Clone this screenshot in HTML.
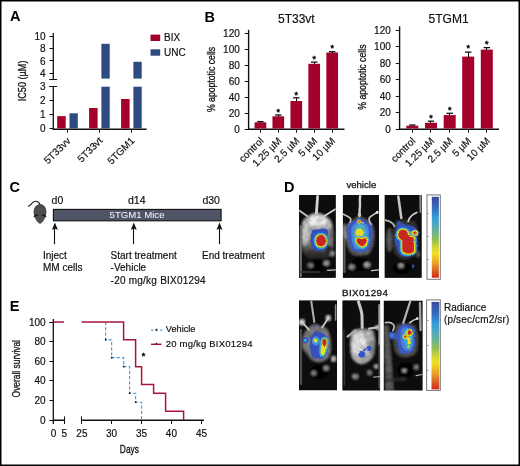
<!DOCTYPE html>
<html><head><meta charset="utf-8"><style>
html,body{margin:0;padding:0;background:#fff;width:520px;height:466px;overflow:hidden;-webkit-font-smoothing:antialiased;}
svg{will-change:transform;}
svg{display:block;font-family:"Liberation Sans", sans-serif;}
</style></head><body>
<svg width="520" height="466" viewBox="0 0 520 466">
<rect x="0" y="0" width="520" height="466" fill="#fff"/>
<defs>
<filter id="b05" x="-20%" y="-20%" width="140%" height="140%"><feGaussianBlur stdDeviation="0.5"/></filter>
<filter id="b06" x="-20%" y="-20%" width="140%" height="140%"><feGaussianBlur stdDeviation="0.6"/></filter>
<filter id="b07" x="-20%" y="-20%" width="140%" height="140%"><feGaussianBlur stdDeviation="0.7"/></filter>
<filter id="hw" x="-20%" y="-20%" width="140%" height="140%"><feTurbulence type="fractalNoise" baseFrequency="0.35" numOctaves="2" seed="3" result="n"/><feDisplacementMap in="SourceGraphic" in2="n" scale="2.2" xChannelSelector="R" yChannelSelector="G" result="d"/><feGaussianBlur in="d" stdDeviation="0.55"/></filter>
<filter id="tex" x="0" y="0" width="1" height="1"><feGaussianBlur in="SourceGraphic" stdDeviation="0.9" result="b"/><feTurbulence type="fractalNoise" baseFrequency="0.18" numOctaves="3" seed="7" result="n"/><feColorMatrix in="n" type="matrix" values="1 0 0 0 0  1 0 0 0 0  1 0 0 0 0  0 0 0 0 1" result="g"/><feComposite in="b" in2="g" operator="arithmetic" k1="0.9" k2="0.55" k3="0" k4="0"/></filter>
<filter id="b09" x="-20%" y="-20%" width="140%" height="140%"><feGaussianBlur stdDeviation="0.9"/></filter>
<linearGradient id="gb1" x1="0" y1="215" x2="0" y2="259" gradientUnits="userSpaceOnUse"><stop offset="0" stop-color="#c8c8c8"/><stop offset="0.35" stop-color="#a8a8a8"/><stop offset="0.65" stop-color="#707070"/><stop offset="0.85" stop-color="#383838"/><stop offset="1" stop-color="#1a1a1a"/></linearGradient>
<filter id="b1" x="-30%" y="-30%" width="160%" height="160%"><feGaussianBlur stdDeviation="1"/></filter>
<filter id="b15" x="-30%" y="-30%" width="160%" height="160%"><feGaussianBlur stdDeviation="1.5"/></filter>
<filter id="b2" x="-30%" y="-30%" width="160%" height="160%"><feGaussianBlur stdDeviation="2.2"/></filter>
<linearGradient id="cbar" x1="0" y1="0" x2="0" y2="1">
<stop offset="0" stop-color="#3a4a9c"/>
<stop offset="0.13" stop-color="#3768c0"/>
<stop offset="0.26" stop-color="#35a0d8"/>
<stop offset="0.4" stop-color="#5fb0a8"/>
<stop offset="0.52" stop-color="#8cbc5a"/>
<stop offset="0.64" stop-color="#d8d830"/>
<stop offset="0.7" stop-color="#f0e020"/>
<stop offset="0.82" stop-color="#e8a028"/>
<stop offset="1" stop-color="#d02820"/>
</linearGradient>
<clipPath id="c1"><rect x="299.1" y="195" width="36.6" height="82.8"/></clipPath>
<clipPath id="c2"><rect x="342.9" y="195" width="36.0" height="82.8"/></clipPath>
<clipPath id="c3"><rect x="384.7" y="195" width="36.9" height="82.8"/></clipPath>
<clipPath id="c4"><rect x="299.0" y="300.6" width="38.0" height="89.7"/></clipPath>
<clipPath id="c5"><rect x="342.5" y="300.6" width="37.6" height="89.9"/></clipPath>
<clipPath id="c6"><rect x="383.8" y="300.8" width="38.7" height="89.7"/></clipPath>
</defs>
<text x="10" y="21.4" font-size="14.5" text-anchor="start" font-weight="bold" fill="#000" >A</text>
<line x1="53.3" y1="32.9" x2="53.3" y2="79.3" stroke="#111" stroke-width="1.3" />
<line x1="53.3" y1="86.2" x2="53.3" y2="129.8" stroke="#111" stroke-width="1.3" />
<line x1="49.5" y1="36.5" x2="53.5" y2="36.5" stroke="#111" stroke-width="1" />
<text x="45.6" y="39.9" font-size="10" text-anchor="end" font-weight="normal" fill="#111" stroke="#111" stroke-width="0.18" >10</text>
<line x1="49.5" y1="48.5" x2="53.5" y2="48.5" stroke="#111" stroke-width="1" />
<text x="45.6" y="52.199999999999996" font-size="10" text-anchor="end" font-weight="normal" fill="#111" stroke="#111" stroke-width="0.18" >8</text>
<line x1="49.5" y1="60.5" x2="53.5" y2="60.5" stroke="#111" stroke-width="1" />
<text x="45.6" y="64.5" font-size="10" text-anchor="end" font-weight="normal" fill="#111" stroke="#111" stroke-width="0.18" >6</text>
<line x1="49.5" y1="73.5" x2="53.5" y2="73.5" stroke="#111" stroke-width="1" />
<text x="45.6" y="76.8" font-size="10" text-anchor="end" font-weight="normal" fill="#111" stroke="#111" stroke-width="0.18" >4</text>
<line x1="49.5" y1="86.5" x2="53.5" y2="86.5" stroke="#111" stroke-width="1" />
<text x="45.6" y="89.99999999999999" font-size="10" text-anchor="end" font-weight="normal" fill="#111" stroke="#111" stroke-width="0.18" >3</text>
<line x1="49.5" y1="100.5" x2="53.5" y2="100.5" stroke="#111" stroke-width="1" />
<text x="45.6" y="104.09999999999998" font-size="10" text-anchor="end" font-weight="normal" fill="#111" stroke="#111" stroke-width="0.18" >2</text>
<line x1="49.5" y1="114.5" x2="53.5" y2="114.5" stroke="#111" stroke-width="1" />
<text x="45.6" y="118.19999999999999" font-size="10" text-anchor="end" font-weight="normal" fill="#111" stroke="#111" stroke-width="0.18" >1</text>
<line x1="49.5" y1="128.5" x2="53.5" y2="128.5" stroke="#111" stroke-width="1" />
<text x="45.6" y="132.29999999999998" font-size="10" text-anchor="end" font-weight="normal" fill="#111" stroke="#111" stroke-width="0.18" >0</text>
<line x1="49.3" y1="79.5" x2="57.1" y2="79.5" stroke="#111" stroke-width="1" />
<line x1="49.3" y1="86.5" x2="57.1" y2="86.5" stroke="#111" stroke-width="1" />
<line x1="52.7" y1="129.25" x2="146.6" y2="129.25" stroke="#111" stroke-width="1.5" />
<line x1="67.5" y1="128.9" x2="67.5" y2="132.7" stroke="#111" stroke-width="1" />
<line x1="99.5" y1="128.9" x2="99.5" y2="132.7" stroke="#111" stroke-width="1" />
<line x1="131.5" y1="128.9" x2="131.5" y2="132.7" stroke="#111" stroke-width="1" />
<rect x="57.20" y="116.10" width="8.50" height="12.30" fill="#A3002B" />
<rect x="89.10" y="108.00" width="8.50" height="20.40" fill="#A3002B" />
<rect x="121.10" y="99.00" width="8.50" height="29.40" fill="#A3002B" />
<rect x="69.50" y="113.30" width="8.30" height="15.10" fill="#2E4A80" />
<rect x="101.40" y="43.80" width="8.30" height="34.80" fill="#2E4A80" />
<rect x="101.40" y="86.70" width="8.30" height="41.70" fill="#2E4A80" />
<rect x="133.40" y="61.80" width="8.30" height="16.80" fill="#2E4A80" />
<rect x="133.40" y="86.70" width="8.30" height="41.70" fill="#2E4A80" />
<rect x="150.50" y="34.60" width="9.70" height="6.40" fill="#A3002B" />
<rect x="150.50" y="49.30" width="9.70" height="6.40" fill="#2E4A80" />
<text x="164.0" y="41.2" font-size="10" text-anchor="start" font-weight="normal" fill="#111" stroke="#111" stroke-width="0.18" >BIX</text>
<text x="164.0" y="55.8" font-size="10" text-anchor="start" font-weight="normal" fill="#111" stroke="#111" stroke-width="0.18" >UNC</text>
<text transform="translate(71.19999999999999,141.4) rotate(-45)" font-size="10" text-anchor="end" fill="#111" stroke="#111" stroke-width="0.18">5T33vv</text>
<text transform="translate(103.1,141.4) rotate(-45)" font-size="10" text-anchor="end" fill="#111" stroke="#111" stroke-width="0.18">5T33vt</text>
<text transform="translate(135.1,141.4) rotate(-45)" font-size="10" text-anchor="end" fill="#111" stroke="#111" stroke-width="0.18">5TGM1</text>
<text transform="translate(26.2,80.9) rotate(-90) scale(0.87,1)" font-size="10.5" text-anchor="middle" fill="#111" stroke="#111" stroke-width="0.3">IC50 (µM)</text>
<text x="204.6" y="22.1" font-size="14.5" text-anchor="start" font-weight="bold" fill="#000" >B</text>
<line x1="248.6" y1="29.8" x2="248.6" y2="130.0" stroke="#111" stroke-width="1.4" />
<line x1="244.7" y1="129.5" x2="248.5" y2="129.5" stroke="#111" stroke-width="1" />
<text x="239.8" y="132.7" font-size="10" text-anchor="end" font-weight="normal" fill="#111" stroke="#111" stroke-width="0.18" >0</text>
<line x1="244.7" y1="113.5" x2="248.5" y2="113.5" stroke="#111" stroke-width="1" />
<text x="239.8" y="116.74999999999999" font-size="10" text-anchor="end" font-weight="normal" fill="#111" stroke="#111" stroke-width="0.18" >20</text>
<line x1="244.7" y1="97.5" x2="248.5" y2="97.5" stroke="#111" stroke-width="1" />
<text x="239.8" y="100.79999999999998" font-size="10" text-anchor="end" font-weight="normal" fill="#111" stroke="#111" stroke-width="0.18" >40</text>
<line x1="244.7" y1="81.5" x2="248.5" y2="81.5" stroke="#111" stroke-width="1" />
<text x="239.8" y="84.85" font-size="10" text-anchor="end" font-weight="normal" fill="#111" stroke="#111" stroke-width="0.18" >60</text>
<line x1="244.7" y1="65.5" x2="248.5" y2="65.5" stroke="#111" stroke-width="1" />
<text x="239.8" y="68.89999999999999" font-size="10" text-anchor="end" font-weight="normal" fill="#111" stroke="#111" stroke-width="0.18" >80</text>
<line x1="244.7" y1="49.5" x2="248.5" y2="49.5" stroke="#111" stroke-width="1" />
<text x="239.8" y="52.949999999999996" font-size="10" text-anchor="end" font-weight="normal" fill="#111" stroke="#111" stroke-width="0.18" >100</text>
<line x1="244.7" y1="33.5" x2="248.5" y2="33.5" stroke="#111" stroke-width="1" />
<text x="239.8" y="36.99999999999999" font-size="10" text-anchor="end" font-weight="normal" fill="#111" stroke="#111" stroke-width="0.18" >120</text>
<line x1="247.9" y1="129.3" x2="344.5" y2="129.3" stroke="#111" stroke-width="1.4" />
<line x1="260.5" y1="129" x2="260.5" y2="132.7" stroke="#111" stroke-width="1" />
<line x1="278.5" y1="129" x2="278.5" y2="132.7" stroke="#111" stroke-width="1" />
<line x1="296.5" y1="129" x2="296.5" y2="132.7" stroke="#111" stroke-width="1" />
<line x1="314.5" y1="129" x2="314.5" y2="132.7" stroke="#111" stroke-width="1" />
<line x1="332.5" y1="129" x2="332.5" y2="132.7" stroke="#111" stroke-width="1" />
<rect x="254.55" y="122.30" width="11.70" height="6.20" fill="#A3002B" />
<rect x="272.45" y="116.30" width="11.70" height="12.20" fill="#A3002B" />
<rect x="290.45" y="101.00" width="11.70" height="27.50" fill="#A3002B" />
<rect x="308.35" y="63.80" width="11.70" height="64.70" fill="#A3002B" />
<rect x="326.35" y="52.50" width="11.70" height="76.00" fill="#A3002B" />
<line x1="260.5" y1="121.6" x2="260.5" y2="122.8" stroke="#111" stroke-width="1" />
<line x1="257.2" y1="121.6" x2="263.59999999999997" y2="121.6" stroke="#111" stroke-width="1.3" />
<line x1="278.5" y1="115.0" x2="278.5" y2="116.8" stroke="#111" stroke-width="1" />
<line x1="275.1" y1="115.0" x2="281.5" y2="115.0" stroke="#111" stroke-width="1.3" />
<line x1="296.5" y1="97.8" x2="296.5" y2="101.5" stroke="#111" stroke-width="1" />
<line x1="293.1" y1="97.8" x2="299.5" y2="97.8" stroke="#111" stroke-width="1.3" />
<line x1="314.5" y1="62.1" x2="314.5" y2="64.3" stroke="#111" stroke-width="1" />
<line x1="311.0" y1="62.1" x2="317.4" y2="62.1" stroke="#111" stroke-width="1.3" />
<line x1="332.5" y1="51.7" x2="332.5" y2="53.0" stroke="#111" stroke-width="1" />
<line x1="329.0" y1="51.7" x2="335.4" y2="51.7" stroke="#111" stroke-width="1.3" />
<text x="278.3" y="114.5" font-size="9" text-anchor="middle" font-weight="normal" fill="#111" stroke="#111" stroke-width="0.5" >*</text>
<text x="296.3" y="97.5" font-size="9" text-anchor="middle" font-weight="normal" fill="#111" stroke="#111" stroke-width="0.5" >*</text>
<text x="314.2" y="61.5" font-size="9" text-anchor="middle" font-weight="normal" fill="#111" stroke="#111" stroke-width="0.5" >*</text>
<text x="332.2" y="51.3" font-size="9" text-anchor="middle" font-weight="normal" fill="#111" stroke="#111" stroke-width="0.5" >*</text>
<text transform="translate(264.2,141.5) rotate(-45)" font-size="10" text-anchor="end" fill="#111" stroke="#111" stroke-width="0.18">control</text>
<text transform="translate(282.1,141.5) rotate(-45)" font-size="10" text-anchor="end" fill="#111" stroke="#111" stroke-width="0.18">1.25 µM</text>
<text transform="translate(300.1,141.5) rotate(-45)" font-size="10" text-anchor="end" fill="#111" stroke="#111" stroke-width="0.18">2.5 µM</text>
<text transform="translate(318.0,141.5) rotate(-45)" font-size="10" text-anchor="end" fill="#111" stroke="#111" stroke-width="0.18">5 µM</text>
<text transform="translate(336.0,141.5) rotate(-45)" font-size="10" text-anchor="end" fill="#111" stroke="#111" stroke-width="0.18">10 µM</text>
<text x="278.0" y="22.8" font-size="12" text-anchor="start" font-weight="normal" fill="#111" stroke="#111" stroke-width="0.18" >5T33vt</text>
<text transform="translate(214.6,79.5) rotate(-90) scale(0.79,1)" font-size="11" text-anchor="middle" fill="#111" stroke="#111" stroke-width="0.3">% apoptotic cells</text>
<line x1="399.6" y1="26.3" x2="399.6" y2="130.0" stroke="#111" stroke-width="1.4" />
<line x1="395.7" y1="129.5" x2="399.5" y2="129.5" stroke="#111" stroke-width="1" />
<text x="390.8" y="132.7" font-size="10" text-anchor="end" font-weight="normal" fill="#111" stroke="#111" stroke-width="0.18" >0</text>
<line x1="395.7" y1="112.5" x2="399.5" y2="112.5" stroke="#111" stroke-width="1" />
<text x="390.8" y="116.19999999999999" font-size="10" text-anchor="end" font-weight="normal" fill="#111" stroke="#111" stroke-width="0.18" >20</text>
<line x1="395.7" y1="96.5" x2="399.5" y2="96.5" stroke="#111" stroke-width="1" />
<text x="390.8" y="99.69999999999999" font-size="10" text-anchor="end" font-weight="normal" fill="#111" stroke="#111" stroke-width="0.18" >40</text>
<line x1="395.7" y1="79.5" x2="399.5" y2="79.5" stroke="#111" stroke-width="1" />
<text x="390.8" y="83.19999999999999" font-size="10" text-anchor="end" font-weight="normal" fill="#111" stroke="#111" stroke-width="0.18" >60</text>
<line x1="395.7" y1="63.5" x2="399.5" y2="63.5" stroke="#111" stroke-width="1" />
<text x="390.8" y="66.69999999999999" font-size="10" text-anchor="end" font-weight="normal" fill="#111" stroke="#111" stroke-width="0.18" >80</text>
<line x1="395.7" y1="46.5" x2="399.5" y2="46.5" stroke="#111" stroke-width="1" />
<text x="390.8" y="50.199999999999996" font-size="10" text-anchor="end" font-weight="normal" fill="#111" stroke="#111" stroke-width="0.18" >100</text>
<line x1="395.7" y1="30.5" x2="399.5" y2="30.5" stroke="#111" stroke-width="1" />
<text x="390.8" y="33.699999999999996" font-size="10" text-anchor="end" font-weight="normal" fill="#111" stroke="#111" stroke-width="0.18" >120</text>
<line x1="398.9" y1="129.3" x2="499" y2="129.3" stroke="#111" stroke-width="1.4" />
<line x1="412.5" y1="129" x2="412.5" y2="132.7" stroke="#111" stroke-width="1" />
<line x1="430.5" y1="129" x2="430.5" y2="132.7" stroke="#111" stroke-width="1" />
<line x1="449.5" y1="129" x2="449.5" y2="132.7" stroke="#111" stroke-width="1" />
<line x1="468.5" y1="129" x2="468.5" y2="132.7" stroke="#111" stroke-width="1" />
<line x1="486.5" y1="129" x2="486.5" y2="132.7" stroke="#111" stroke-width="1" />
<rect x="406.30" y="125.70" width="12.00" height="2.80" fill="#A3002B" />
<rect x="425.00" y="122.80" width="12.00" height="5.70" fill="#A3002B" />
<rect x="443.70" y="115.10" width="12.00" height="13.40" fill="#A3002B" />
<rect x="462.20" y="56.60" width="12.00" height="71.90" fill="#A3002B" />
<rect x="480.80" y="49.60" width="12.00" height="78.90" fill="#A3002B" />
<line x1="412.5" y1="125.0" x2="412.5" y2="126.2" stroke="#111" stroke-width="1" />
<line x1="409.1" y1="125.0" x2="415.5" y2="125.0" stroke="#111" stroke-width="1.3" />
<line x1="430.5" y1="121.2" x2="430.5" y2="123.3" stroke="#111" stroke-width="1" />
<line x1="427.8" y1="121.2" x2="434.2" y2="121.2" stroke="#111" stroke-width="1.3" />
<line x1="449.5" y1="113.3" x2="449.5" y2="115.6" stroke="#111" stroke-width="1" />
<line x1="446.5" y1="113.3" x2="452.9" y2="113.3" stroke="#111" stroke-width="1.3" />
<line x1="468.5" y1="52.1" x2="468.5" y2="57.1" stroke="#111" stroke-width="1" />
<line x1="465.0" y1="52.1" x2="471.4" y2="52.1" stroke="#111" stroke-width="1.3" />
<line x1="486.5" y1="47.6" x2="486.5" y2="50.1" stroke="#111" stroke-width="1" />
<line x1="483.6" y1="47.6" x2="490.0" y2="47.6" stroke="#111" stroke-width="1.3" />
<text x="431.0" y="121.2" font-size="9" text-anchor="middle" font-weight="normal" fill="#111" stroke="#111" stroke-width="0.5" >*</text>
<text x="449.7" y="112.9" font-size="9" text-anchor="middle" font-weight="normal" fill="#111" stroke="#111" stroke-width="0.5" >*</text>
<text x="468.2" y="50.9" font-size="9" text-anchor="middle" font-weight="normal" fill="#111" stroke="#111" stroke-width="0.5" >*</text>
<text x="486.8" y="47.4" font-size="9" text-anchor="middle" font-weight="normal" fill="#111" stroke="#111" stroke-width="0.5" >*</text>
<text transform="translate(416.1,141.5) rotate(-45)" font-size="10" text-anchor="end" fill="#111" stroke="#111" stroke-width="0.18">control</text>
<text transform="translate(434.8,141.5) rotate(-45)" font-size="10" text-anchor="end" fill="#111" stroke="#111" stroke-width="0.18">1.25 µM</text>
<text transform="translate(453.5,141.5) rotate(-45)" font-size="10" text-anchor="end" fill="#111" stroke="#111" stroke-width="0.18">2.5 µM</text>
<text transform="translate(472.0,141.5) rotate(-45)" font-size="10" text-anchor="end" fill="#111" stroke="#111" stroke-width="0.18">5 µM</text>
<text transform="translate(490.6,141.5) rotate(-45)" font-size="10" text-anchor="end" fill="#111" stroke="#111" stroke-width="0.18">10 µM</text>
<text x="428.6" y="22.8" font-size="12" text-anchor="start" font-weight="normal" fill="#111" stroke="#111" stroke-width="0.18" >5TGM1</text>
<text transform="translate(365.8,77.1) rotate(-90) scale(0.79,1)" font-size="11" text-anchor="middle" fill="#111" stroke="#111" stroke-width="0.3">% apoptotic cells</text>
<text x="9.6" y="191.6" font-size="14.5" text-anchor="start" font-weight="bold" fill="#000" >C</text>
<path d="M28.4,206.1 C30.5,206.3 31.5,203 33,202.2 C34.5,201.2 36.5,201 38,202 C39,202.7 39.6,203.6 40.2,205" fill="none" stroke="#222" stroke-width="1.2" stroke-linecap="round"/>
<path d="M40.1,204.6 C43.8,204.6 46,207.8 46,211.8 C46,214 45.6,216 44.8,217.5 C44.2,219 42.8,221.2 41.5,222.6 C40.7,223.5 39.3,223.5 38.5,222.6 C37.2,221.2 35.8,219 35.2,217.5 C34.4,216 34,214 34,211.8 C34,207.8 36.4,204.6 40.1,204.6 Z" fill="#4e4e4e" stroke="#2c2c2c" stroke-width="0.7"/>
<path d="M34.2,217.2 C34.5,215.2 36.5,214.6 38.2,215.8" fill="none" stroke="#151515" stroke-width="1.3"/>
<path d="M45.8,217.2 C45.5,215.2 43.5,214.6 41.8,215.8" fill="none" stroke="#151515" stroke-width="1.3"/>
<path d="M36.5,221.5 l-1.6,0.8 M36.8,222.3 l-1,1.4 M43.5,221.5 l1.6,0.8 M43.2,222.3 l1,1.4" stroke="#c8c8c8" stroke-width="0.6"/>
<rect x="53.4" y="209.4" width="167.7" height="11.4" fill="#4f5567" stroke="#111" stroke-width="1.1"/>
<text x="109.6" y="218.0" font-size="9.6" text-anchor="start" font-weight="normal" fill="#eef0f4" stroke="#eef0f4" stroke-width="0.05" >5TGM1 Mice</text>
<text x="51.6" y="203.8" font-size="10.5" text-anchor="start" font-weight="normal" fill="#111" stroke="#111" stroke-width="0.18" >d0</text>
<text x="128.0" y="203.8" font-size="10.5" text-anchor="start" font-weight="normal" fill="#111" stroke="#111" stroke-width="0.18" >d14</text>
<text x="202.4" y="203.8" font-size="10.5" text-anchor="start" font-weight="normal" fill="#111" stroke="#111" stroke-width="0.18" >d30</text>
<line x1="54.5" y1="226" x2="54.5" y2="244.2" stroke="#111" stroke-width="1.1" />
<path d="M54.9,222.6 L51.9,230 L54.9,228.6 L57.9,230 Z" fill="#111"/>
<line x1="133.5" y1="226" x2="133.5" y2="244.2" stroke="#111" stroke-width="1.1" />
<path d="M133.8,222.6 L130.8,230 L133.8,228.6 L136.8,230 Z" fill="#111"/>
<line x1="219.5" y1="226" x2="219.5" y2="244.2" stroke="#111" stroke-width="1.1" />
<path d="M219.5,222.6 L216.5,230 L219.5,228.6 L222.5,230 Z" fill="#111"/>
<text x="43.0" y="258.9" font-size="10" text-anchor="start" font-weight="normal" fill="#111" stroke="#111" stroke-width="0.18" >Inject</text>
<text x="43.0" y="271.3" font-size="10" text-anchor="start" font-weight="normal" fill="#111" stroke="#111" stroke-width="0.18" >MM cells</text>
<text x="110.6" y="258.9" font-size="10" text-anchor="start" font-weight="normal" fill="#111" stroke="#111" stroke-width="0.18" >Start treatment</text>
<text x="110.6" y="271.3" font-size="10" text-anchor="start" font-weight="normal" fill="#111" stroke="#111" stroke-width="0.18" >-Vehicle</text>
<text x="202.0" y="258.9" font-size="10" text-anchor="start" font-weight="normal" fill="#111" stroke="#111" stroke-width="0.18" >End treatment</text>
<text x="110.6" y="283.7" font-size="10" text-anchor="start" font-weight="normal" fill="#111" stroke="#111" stroke-width="0.18" letter-spacing="0.23">-20 mg/kg BIX01294</text>
<text x="284.1" y="191.6" font-size="14.5" text-anchor="start" font-weight="bold" fill="#000" >D</text>
<text x="346.4" y="187.6" font-size="9.6" text-anchor="start" font-weight="normal" fill="#111" stroke="#111" stroke-width="0.25" >vehicle</text>
<text x="342.0" y="296.1" font-size="9.8" text-anchor="start" font-weight="normal" fill="#111" stroke="#111" stroke-width="0.3" letter-spacing="0.4">BIX01294</text>
<text x="444.0" y="310.6" font-size="10" text-anchor="start" font-weight="normal" fill="#111" stroke="#111" stroke-width="0.18" >Radiance</text>
<text x="444.0" y="322.5" font-size="10" text-anchor="start" font-weight="normal" fill="#111" stroke="#111" stroke-width="0.18" letter-spacing="0.15">(p/sec/cm2/sr)</text>
<rect x="427.0" y="194.9" width="13.300000000000011" height="84.4" fill="#fff" stroke="#777" stroke-width="1"/>
<rect x="431.8" y="196.8" width="7.099999999999966" height="80.89999999999998" fill="url(#cbar)"/>
<line x1="427.5" y1="213.5" x2="429.0" y2="213.5" stroke="#777" stroke-width="0.7" />
<line x1="427.5" y1="236.5" x2="429.0" y2="236.5" stroke="#777" stroke-width="0.7" />
<line x1="427.5" y1="259.5" x2="429.0" y2="259.5" stroke="#777" stroke-width="0.7" />
<rect x="426.6" y="299.9" width="13.699999999999989" height="90.5" fill="#fff" stroke="#777" stroke-width="1"/>
<rect x="431.5" y="301.9" width="7.800000000000011" height="87.5" fill="url(#cbar)"/>
<line x1="427.1" y1="320.5" x2="428.6" y2="320.5" stroke="#777" stroke-width="0.7" />
<line x1="427.1" y1="345.5" x2="428.6" y2="345.5" stroke="#777" stroke-width="0.7" />
<line x1="427.1" y1="370.5" x2="428.6" y2="370.5" stroke="#777" stroke-width="0.7" />
<g clip-path="url(#c1)">
<rect x="299.1" y="195" width="36.6" height="82.7" fill="#0a0a0a"/>
<g filter="url(#tex)"><rect x="280" y="190" width="150" height="210" fill="#0a0a0a"/>
<path d="M313.5,214 C316,213.2 318,213.2 320.5,214 C324,215.5 328,217.5 330.5,221 C332.5,226 333,235 333,244 C333,251 331,256 327,259 L309,259 C304.5,256 302,251 301.8,244 C301.5,235 301.8,226 303.5,221 C306,217.5 310,215.5 313.5,214 Z" fill="url(#gb1)"/>
<ellipse cx="317" cy="221" rx="9" ry="5" fill="#e0e0e0"/>
<ellipse cx="305.5" cy="236" rx="3.2" ry="9" fill="#c4c4c4"/>
<ellipse cx="330" cy="236" rx="2.2" ry="8" fill="#6a6a6a"/>
<ellipse cx="328.5" cy="251" rx="3.5" ry="6" fill="#2a2a2a"/>
<ellipse cx="318" cy="266" rx="9" ry="7" fill="#050505"/>
<ellipse cx="332.2" cy="253.6" rx="2.2" ry="2.6" fill="#909090"/>
<ellipse cx="310.6" cy="265.3" rx="2.8" ry="2.4" fill="#7a7a7a"/>
<ellipse cx="326.4" cy="263.2" rx="2.8" ry="2.4" fill="#959595"/>
</g><g filter="url(#b05)">
<line x1="317.6" y1="196.5" x2="316.4" y2="213" stroke="#d4d4d4" stroke-width="2.8" stroke-linecap="round"/>
<line x1="299.6" y1="210.8" x2="307.5" y2="216.2" stroke="#c4c4c4" stroke-width="1.8" stroke-linecap="round"/>
<line x1="335.2" y1="209.3" x2="324" y2="216.2" stroke="#cfcfcf" stroke-width="1.8" stroke-linecap="round"/>
<line x1="300.8" y1="226" x2="300.8" y2="276" stroke="#707070" stroke-width="2.2" stroke-linecap="round"/>
<line x1="327.5" y1="270.3" x2="335.5" y2="269.8" stroke="#c8c8c8" stroke-width="1.2" stroke-linecap="round"/>
<line x1="300" y1="272" x2="320" y2="272" stroke="#3a3a3a" stroke-width="1.5" stroke-linecap="round"/>
</g><g filter="url(#hw)">
<path d="M312.5,230 C315,228.8 318.5,229.8 321,228.8 C323.5,228 326,228.4 327.8,229.6 C328.4,236 328.2,244 326.5,248.8 C324,251.2 318,251.6 314.5,250.2 C311.5,248 310.6,243 310.8,237 C311,233.5 311.5,231.5 312.5,230 Z" fill="#3550bc"/>
<path d="M321,235.3 C324,235.3 325.8,237.6 325.7,240.8 C325.6,244 324,246.3 321,246.3 C318,246.3 316.3,244 316.3,240.8 C316.3,237.6 318,235.3 321,235.3 Z" fill="#3aa8dc" stroke="#3aa8dc" stroke-width="5.4" stroke-linejoin="round" stroke-linecap="round"/>
<path d="M321,235.3 C324,235.3 325.8,237.6 325.7,240.8 C325.6,244 324,246.3 321,246.3 C318,246.3 316.3,244 316.3,240.8 C316.3,237.6 318,235.3 321,235.3 Z" fill="#84c060" stroke="#84c060" stroke-width="3.2" stroke-linejoin="round" stroke-linecap="round"/>
<path d="M321,235.3 C324,235.3 325.8,237.6 325.7,240.8 C325.6,244 324,246.3 321,246.3 C318,246.3 316.3,244 316.3,240.8 C316.3,237.6 318,235.3 321,235.3 Z" fill="#f0e020" stroke="#f0e020" stroke-width="1.8" stroke-linejoin="round" stroke-linecap="round"/>
<path d="M321,235.3 C324,235.3 325.8,237.6 325.7,240.8 C325.6,244 324,246.3 321,246.3 C318,246.3 316.3,244 316.3,240.8 C316.3,237.6 318,235.3 321,235.3 Z" fill="#c82820"/>
</g>
</g>
<g clip-path="url(#c2)">
<rect x="342.9" y="195" width="36.0" height="82.7" fill="#0a0a0a"/>
<g filter="url(#tex)"><rect x="280" y="190" width="150" height="210" fill="#0a0a0a"/>
<path d="M359.5,216 C363,217.5 368,220.5 371.5,223.5 C374,227 374.5,232 374,238 C373.5,245 372,250 369,253.5 C365,256 355,256 351.5,253.5 C348.5,250 346.5,244 345.6,237 C345,231 345.8,226.5 348.5,223.5 C352,220.5 356,217.5 359.5,216 Z" fill="#5a5a5a"/>
<ellipse cx="344.8" cy="232" rx="1.8" ry="8" fill="#8a8a8a"/>
<ellipse cx="360.5" cy="264.5" rx="9" ry="7" fill="#050505"/>
<ellipse cx="351.8" cy="267.1" rx="3" ry="2.5" fill="#8a8a8a"/>
<ellipse cx="367.1" cy="264.8" rx="3" ry="2.6" fill="#a4a4a4"/>
</g><g filter="url(#b05)">
<path d="M360.2,196 C359.4,200 360.4,204 359.8,208 C359.4,211 359.6,213 359.5,216" fill="none" stroke="#d0d0d0" stroke-width="2.4" stroke-linecap="round"/>
<ellipse cx="359.5" cy="214.5" rx="1.8" ry="1.6" fill="#c8c8c8"/>
<path d="M343.4,214.3 C346,215.5 349,216.5 350.5,218.5 C351.5,220.5 350,223 348.5,226" fill="none" stroke="#c0c0c0" stroke-width="1.7" stroke-linecap="round"/>
<path d="M377.6,212 C375,214 371.5,215.5 369.5,217.5 C368.5,219.5 369.5,222 371,224.5" fill="none" stroke="#c8c8c8" stroke-width="1.7" stroke-linecap="round"/>
<ellipse cx="377.2" cy="212.3" rx="1.4" ry="1.6" fill="#e0e0e0"/>
<line x1="344.4" y1="240" x2="344.4" y2="272" stroke="#5a5a5a" stroke-width="2.2" stroke-linecap="round"/>
<line x1="371.5" y1="270.6" x2="378.7" y2="269.8" stroke="#cccccc" stroke-width="1.2" stroke-linecap="round"/>
</g><g filter="url(#hw)">
<path d="M359.5,217.4 C362,218.5 366,221 370,224 C372.5,226.5 373,229 372.6,232 C372,238 371,244 369.5,248 C367.5,251.5 363,252.5 359,252.2 C355,252 352,250.5 350.5,247.5 C349,243 347.5,237 346.6,231.5 C346.3,228.5 347,226 349.5,224 C352.5,221.5 356.5,219 359.5,217.4 Z" fill="#3a58c4"/>
<path d="M359.5,220.5 C362,221.5 365,223.5 367.5,226 C369,229 369,233 368.5,237 C368,242 367,246 365,248.5 C362.5,250 357.5,250 355,248.5 C353,246 352,242 351.5,237 C351,232 351,228.5 352.5,226 C354.5,223.5 357,221.5 359.5,220.5 Z" fill="#4a8ad4"/>
<path d="M360,223.5 C362,224.5 364.5,226.5 365.5,229 C366.5,233 366.5,238 365.5,243 C364.5,246.5 362.5,248 360.5,248 C358,248 356,246.5 355,243.5 C354,239 354,233 355,229 C356,226.5 358,224.5 360,223.5 Z" fill="#48b0c8"/>
<ellipse cx="359.3" cy="233.5" rx="4.6" ry="5.2" fill="#84c060"/>
<path d="M357.5,230.2 C359,228.8 361,229.3 361.8,231 C362.5,233 362,235.5 360.5,236.5 C358.5,237.2 357,236 356.8,234 C356.6,232.8 356.8,231.5 357.5,230.2 Z" fill="#e8e030" stroke="#e8e030" stroke-width="2.0" stroke-linejoin="round" stroke-linecap="round"/>
<path d="M357.5,230.2 C359,228.8 361,229.3 361.8,231 C362.5,233 362,235.5 360.5,236.5 C358.5,237.2 357,236 356.8,234 C356.6,232.8 356.8,231.5 357.5,230.2 Z" fill="#f0d820"/>
<path d="M356.6,239.9 C357,237.8 359.5,237.6 362,239.6 C364.2,237.6 367,238 366.8,240.4 C366.6,243 364.2,245.2 362.3,246.6 C360,245.2 356.4,242.6 356.6,239.9 Z" fill="#3aa8dc" stroke="#3aa8dc" stroke-width="5.2" stroke-linejoin="round" stroke-linecap="round"/>
<path d="M356.6,239.9 C357,237.8 359.5,237.6 362,239.6 C364.2,237.6 367,238 366.8,240.4 C366.6,243 364.2,245.2 362.3,246.6 C360,245.2 356.4,242.6 356.6,239.9 Z" fill="#84c060" stroke="#84c060" stroke-width="3.4" stroke-linejoin="round" stroke-linecap="round"/>
<path d="M356.6,239.9 C357,237.8 359.5,237.6 362,239.6 C364.2,237.6 367,238 366.8,240.4 C366.6,243 364.2,245.2 362.3,246.6 C360,245.2 356.4,242.6 356.6,239.9 Z" fill="#f0e020" stroke="#f0e020" stroke-width="2.0" stroke-linejoin="round" stroke-linecap="round"/>
<path d="M356.6,239.9 C357,237.8 359.5,237.6 362,239.6 C364.2,237.6 367,238 366.8,240.4 C366.6,243 364.2,245.2 362.3,246.6 C360,245.2 356.4,242.6 356.6,239.9 Z" fill="#c82820"/>
<path d="M359.1,221.5 L359.2,221.6 Z" fill="#e0d030" stroke="#e0d030" stroke-width="4.0" stroke-linejoin="round" stroke-linecap="round"/>
<path d="M359.1,221.5 L359.2,221.6 Z" fill="#e07020" stroke="#e07020" stroke-width="2.4" stroke-linejoin="round" stroke-linecap="round"/>
<path d="M359.1,221.5 L359.2,221.6 Z" fill="#e07020"/>
<ellipse cx="362.7" cy="222.7" rx="1.1" ry="1" fill="#f0e020"/>
</g>
</g>
<g clip-path="url(#c3)">
<rect x="384.7" y="195" width="36.9" height="82.7" fill="#0a0a0a"/>
<g filter="url(#tex)"><rect x="280" y="190" width="150" height="210" fill="#0a0a0a"/>
<path d="M395,222 C399,219.5 410,219.5 415,222 C418.5,229 419,240 418,249 C416.5,256 412,259 405,259 C399,259 395,256 393.5,249 C392,240 392.5,229 395,222 Z" fill="#333333"/>
<ellipse cx="389.5" cy="240" rx="2.5" ry="12" fill="#5a5a5a"/>
<ellipse cx="402" cy="268" rx="9" ry="6" fill="#050505"/>
<ellipse cx="401" cy="265.7" rx="2.8" ry="2.3" fill="#949494"/>
<ellipse cx="418" cy="254" rx="1.8" ry="3" fill="#555"/>
</g><g filter="url(#b05)">
<path d="M398.3,196.5 L401.3,218" fill="none" stroke="#c4c4c4" stroke-width="2.6" stroke-linecap="round" stroke-dasharray="4.2,0.9"/>
<path d="M385.3,220.1 C388.5,220.8 391.5,222 393.5,224.5 L394.7,226.5" fill="none" stroke="#b8b8b8" stroke-width="1.6" stroke-linecap="round"/>
<path d="M416.8,212.5 C413.5,213.8 410.5,216.5 409,219 L408.2,221.5" fill="none" stroke="#d0d0d0" stroke-width="1.7" stroke-linecap="round"/>
<line x1="420.2" y1="196" x2="420.4" y2="212" stroke="#8a8a8a" stroke-width="1.8" stroke-linecap="round"/>
</g><g filter="url(#hw)">
<path d="M397.9,220.6 C400.5,221.5 402.5,224.5 406.5,225 C410.5,225.3 414.5,226 416.5,229 C417.8,235 417.6,245 416.4,251 C415.2,255.5 411,257 405.8,256.8 C401,256.6 398.5,254.5 397.5,250 C397,247 395,244.5 394.3,241 C393.8,238 395.5,235 396.3,231.5 C396.6,227.5 396.8,223.5 397.9,220.6 Z" fill="#3550bc"/>
<ellipse cx="411.5" cy="234.5" rx="3.2" ry="3.2" fill="#84c060"/>
<ellipse cx="411.8" cy="235.5" rx="1.8" ry="1.8" fill="#d8d830"/>
<path d="M403,229.8 C405.8,229.8 407.8,231.8 408,234.5 L409.5,236.8 C412.3,236.6 413.8,237.5 413.9,240 L414,250.5 C413.6,252.8 411.5,253.6 408,253.5 C404.6,253.4 402.6,252.3 402.4,250 L402.2,239.3 C400,238.7 398.2,236.8 398.2,234.6 C398.2,231.8 400.2,229.8 403,229.8 Z" fill="#3aa8dc" stroke="#3aa8dc" stroke-width="5.2" stroke-linejoin="round" stroke-linecap="round"/>
<path d="M403,229.8 C405.8,229.8 407.8,231.8 408,234.5 L409.5,236.8 C412.3,236.6 413.8,237.5 413.9,240 L414,250.5 C413.6,252.8 411.5,253.6 408,253.5 C404.6,253.4 402.6,252.3 402.4,250 L402.2,239.3 C400,238.7 398.2,236.8 398.2,234.6 C398.2,231.8 400.2,229.8 403,229.8 Z" fill="#84c060" stroke="#84c060" stroke-width="3.2" stroke-linejoin="round" stroke-linecap="round"/>
<path d="M403,229.8 C405.8,229.8 407.8,231.8 408,234.5 L409.5,236.8 C412.3,236.6 413.8,237.5 413.9,240 L414,250.5 C413.6,252.8 411.5,253.6 408,253.5 C404.6,253.4 402.6,252.3 402.4,250 L402.2,239.3 C400,238.7 398.2,236.8 398.2,234.6 C398.2,231.8 400.2,229.8 403,229.8 Z" fill="#f0e020" stroke="#f0e020" stroke-width="1.8" stroke-linejoin="round" stroke-linecap="round"/>
<path d="M403,229.8 C405.8,229.8 407.8,231.8 408,234.5 L409.5,236.8 C412.3,236.6 413.8,237.5 413.9,240 L414,250.5 C413.6,252.8 411.5,253.6 408,253.5 C404.6,253.4 402.6,252.3 402.4,250 L402.2,239.3 C400,238.7 398.2,236.8 398.2,234.6 C398.2,231.8 400.2,229.8 403,229.8 Z" fill="#c82820"/>
<path d="M415,231.4 C416,231.4 416.7,232.1 416.7,232.9 C416.7,233.8 416,234.4 415,234.4 C414,234.4 413.3,233.7 413.3,232.9 C413.3,232.1 414,231.4 415,231.4 Z" fill="#3aa8dc" stroke="#3aa8dc" stroke-width="4.0" stroke-linejoin="round" stroke-linecap="round"/>
<path d="M415,231.4 C416,231.4 416.7,232.1 416.7,232.9 C416.7,233.8 416,234.4 415,234.4 C414,234.4 413.3,233.7 413.3,232.9 C413.3,232.1 414,231.4 415,231.4 Z" fill="#f0e020" stroke="#f0e020" stroke-width="2.4" stroke-linejoin="round" stroke-linecap="round"/>
<path d="M415,231.4 C416,231.4 416.7,232.1 416.7,232.9 C416.7,233.8 416,234.4 415,234.4 C414,234.4 413.3,233.7 413.3,232.9 C413.3,232.1 414,231.4 415,231.4 Z" fill="#c82820"/>
<ellipse cx="413.2" cy="266.2" rx="1.1" ry="2" fill="#3550bc"/>
</g>
</g>
<g clip-path="url(#c4)">
<rect x="299.0" y="300.6" width="38.0" height="89.2" fill="#0a0a0a"/>
<g filter="url(#tex)"><rect x="280" y="190" width="150" height="210" fill="#0a0a0a"/>
<path d="M314.5,324.5 C318,325.5 323,327 327,329.5 C330,334 331,342 330.5,350 C330,356 327,360.5 321,361.5 C315,362 310.5,360 308.5,355 C306.5,352 303,350 302.5,345 C302.2,340 304,334 306.5,330.5 C309,327.5 312,325.5 314.5,324.5 Z" fill="#787878"/>
<ellipse cx="302" cy="322.2" rx="2.2" ry="2.6" fill="#f4f4f4"/>
<ellipse cx="328.3" cy="318.2" rx="1.9" ry="2.4" fill="#f4f4f4"/>
<ellipse cx="319" cy="372" rx="9" ry="7.5" fill="#050505"/>
<ellipse cx="333.6" cy="358.8" rx="2.0" ry="2.6" fill="#c8c8c8"/>
<ellipse cx="326.1" cy="368.2" rx="2.6" ry="2.4" fill="#909090"/>
<ellipse cx="313.8" cy="373.1" rx="2.6" ry="2.4" fill="#787878"/>
</g><g filter="url(#b05)">
<line x1="301" y1="330" x2="301" y2="384" stroke="#505050" stroke-width="2.2" stroke-linecap="round"/>
<line x1="335.6" y1="305" x2="335.6" y2="320" stroke="#8a8a8a" stroke-width="1.6" stroke-linecap="round"/>
<line x1="311.3" y1="301.5" x2="314.3" y2="322" stroke="#b0b0b0" stroke-width="2.0" stroke-linecap="round"/>
<line x1="302.2" y1="322.4" x2="308.9" y2="329.6" stroke="#c8c8c8" stroke-width="1.8" stroke-linecap="round"/>
<line x1="328.1" y1="318.3" x2="322.2" y2="327.6" stroke="#c8c8c8" stroke-width="1.8" stroke-linecap="round"/>
</g><g filter="url(#hw)">
<path d="M316,330.8 C319,331.5 322.5,333 325.5,335 C328,338 328.5,343 328.2,348 C327.8,353 326,357.5 321,359 C316,359.8 312.5,358 311,354 C309.8,350 309.6,344 310,339.5 C310.6,335.5 313,332.2 316,330.8 Z" fill="#3550bc"/>
<path d="M305.4,340.2 L305.5,340.4 Z" fill="#3550bc" stroke="#3550bc" stroke-width="6.0" stroke-linejoin="round" stroke-linecap="round"/>
<path d="M305.4,340.2 L305.5,340.4 Z" fill="#3aa8dc" stroke="#3aa8dc" stroke-width="3.0" stroke-linejoin="round" stroke-linecap="round"/>
<path d="M305.4,340.2 L305.5,340.4 Z" fill="#3aa8dc"/>
<ellipse cx="314.3" cy="325.9" rx="1.2" ry="1.2" fill="#3550bc"/>
<ellipse cx="316" cy="341" rx="4.2" ry="4.6" fill="#4a8ad4"/>
<path d="M315.6,340.5 L315.7,340.6 Z" fill="#3aa8dc" stroke="#3aa8dc" stroke-width="6.0" stroke-linejoin="round" stroke-linecap="round"/>
<path d="M315.6,340.5 L315.7,340.6 Z" fill="#f0e020" stroke="#f0e020" stroke-width="3.4" stroke-linejoin="round" stroke-linecap="round"/>
<path d="M315.6,340.5 L315.7,340.6 Z" fill="#f0e020"/>
<ellipse cx="323.5" cy="346" rx="4.2" ry="9" fill="#4a8ad4"/>
<path d="M324.5,339.5 C325.5,339.5 326,341 325.8,343 C325.5,346 324.5,350 323.2,353.5 C322.5,354.5 321.8,353.8 322,352 C322.3,348 323,343 323.5,341 C323.7,340 324,339.5 324.5,339.5 Z" fill="#3aa8dc" stroke="#3aa8dc" stroke-width="5.6" stroke-linejoin="round" stroke-linecap="round"/>
<path d="M324.5,339.5 C325.5,339.5 326,341 325.8,343 C325.5,346 324.5,350 323.2,353.5 C322.5,354.5 321.8,353.8 322,352 C322.3,348 323,343 323.5,341 C323.7,340 324,339.5 324.5,339.5 Z" fill="#84c060" stroke="#84c060" stroke-width="3.6" stroke-linejoin="round" stroke-linecap="round"/>
<path d="M324.5,339.5 C325.5,339.5 326,341 325.8,343 C325.5,346 324.5,350 323.2,353.5 C322.5,354.5 321.8,353.8 322,352 C322.3,348 323,343 323.5,341 C323.7,340 324,339.5 324.5,339.5 Z" fill="#f0e020" stroke="#f0e020" stroke-width="2.2" stroke-linejoin="round" stroke-linecap="round"/>
<path d="M324.5,339.5 C325.5,339.5 326,341 325.8,343 C325.5,346 324.5,350 323.2,353.5 C322.5,354.5 321.8,353.8 322,352 C322.3,348 323,343 323.5,341 C323.7,340 324,339.5 324.5,339.5 Z" fill="#f0e020"/>
<ellipse cx="324.4" cy="342.5" rx="2.0" ry="3.4" fill="#c82820"/>
</g>
</g>
<g clip-path="url(#c5)">
<rect x="342.5" y="300.6" width="37.6" height="89.4" fill="#0a0a0a"/>
<g filter="url(#tex)"><rect x="280" y="190" width="150" height="210" fill="#0a0a0a"/>
<path d="M353,331 C357,328.5 368,328.5 372.5,331 C375,336 375.2,346 373.8,353 C372.2,359 367.5,363 361.5,363.8 C355.5,363 352.2,359 351.2,353 C350.2,346 350.5,336 353,331 Z" fill="#a8a8a8"/>
<ellipse cx="359" cy="344" rx="7.5" ry="12" fill="#d6d6d6"/>
<ellipse cx="371.5" cy="348" rx="2.6" ry="8" fill="#808080"/>
<ellipse cx="377.8" cy="327.2" rx="1.8" ry="1.8" fill="#e4e4e4"/>
<ellipse cx="376.1" cy="366.2" rx="1.6" ry="1.8" fill="#d0d0d0"/>
<ellipse cx="369.6" cy="372.7" rx="2.4" ry="2.4" fill="#7a7a7a"/>
<ellipse cx="355.3" cy="376.6" rx="3" ry="2.4" fill="#8a8a8a"/>
</g><g filter="url(#b05)">
<path d="M358.3,301.2 C359.5,306 362,311 362,316 L362.2,327.5" fill="none" stroke="#c8c8c8" stroke-width="3" stroke-linecap="round"/>
<line x1="347.6" y1="336.5" x2="355.5" y2="330.5" stroke="#a8a8a8" stroke-width="2.4" stroke-linecap="round"/>
<line x1="378.5" y1="327.1" x2="369.1" y2="328.6" stroke="#c0c0c0" stroke-width="2.2" stroke-linecap="round"/>
<line x1="379.2" y1="305" x2="379.2" y2="345" stroke="#9a9a9a" stroke-width="1.8" stroke-linecap="round"/>
<line x1="379.2" y1="345" x2="379.2" y2="388" stroke="#4a4a4a" stroke-width="1.6" stroke-linecap="round"/>
<line x1="373.6" y1="377.1" x2="380" y2="376.5" stroke="#aaaaaa" stroke-width="1.1" stroke-linecap="round"/>
<line x1="344" y1="330" x2="344.5" y2="385" stroke="#303030" stroke-width="1.6" stroke-linecap="round"/>
</g><g filter="url(#hw)">
<ellipse cx="361.7" cy="354.2" rx="3.4" ry="3.2" fill="#3452c8"/>
<ellipse cx="369.1" cy="348.5" rx="2.5" ry="2.5" fill="#3452c8"/>
<ellipse cx="364.7" cy="349.4" rx="1.1" ry="1.1" fill="#3452c8"/>
</g>
</g>
<g clip-path="url(#c6)">
<rect x="383.8" y="300.8" width="38.7" height="89.2" fill="#0a0a0a"/>
<g filter="url(#tex)"><rect x="280" y="190" width="150" height="210" fill="#0a0a0a"/>
<path d="M397,325 C401,323 411,323 415,326 C418,332 418.5,342 417,350 C415.5,355 411,357 405,357 C400,357 396,355 394.5,349 C393,341 394,331 397,325 Z" fill="#484848"/>
<path d="M383.8,326 L388.5,326 L393.5,390 L386,390 Z" fill="#565656"/>
<ellipse cx="405.5" cy="370" rx="8.5" ry="7.5" fill="#050505"/>
<ellipse cx="404.2" cy="370.7" rx="2.4" ry="2.0" fill="#a0a0a0"/>
<ellipse cx="416.1" cy="367.2" rx="2.2" ry="2.2" fill="#8a8a8a"/>
<line x1="386" y1="380.5" x2="405" y2="379" stroke="#2e2e2e" stroke-width="2.5" stroke-linecap="round"/>
</g><g filter="url(#b05)">
<line x1="420" y1="303" x2="420.5" y2="330" stroke="#a0a0a0" stroke-width="2.4" stroke-linecap="round"/>
<line x1="410.2" y1="301.5" x2="403.2" y2="323.2" stroke="#b4b4b4" stroke-width="2.2" stroke-linecap="round"/>
<path d="M385.5,322.7 C388.5,322 391.5,322.5 393.5,324.5 C394.5,326 394,328.5 392.9,330.6" fill="none" stroke="#bcbcbc" stroke-width="1.7" stroke-linecap="round"/>
<path d="M417.1,318.8 C414.5,319.5 412,321 409.7,322.7" fill="none" stroke="#c8c8c8" stroke-width="1.7" stroke-linecap="round"/>
<ellipse cx="417.3" cy="318.6" rx="1.3" ry="1.5" fill="#e0e0e0"/>
<line x1="416.1" y1="375.6" x2="422" y2="374.5" stroke="#b8b8b8" stroke-width="1.2" stroke-linecap="round"/>
</g><g filter="url(#hw)">
<path d="M403.5,323.5 C407.5,324.5 411.5,326 414,328.5 C415.6,333 415.6,341 414.6,347 C413.5,351.5 410,353.8 405.5,353.8 C401.5,353.8 399,351.5 398.3,348 C397.8,344 397.2,340 396.8,337.5 C396.8,332 398.5,328 400.5,326 C401.5,325 402.5,324 403.5,323.5 Z" fill="#3a58c4"/>
<path d="M391.9,332 C394,332 396,333.5 398,335.5 L398,338 C396,339.5 394,339.5 391.9,339.3 C389.8,339 388.5,337.5 388.5,335.6 C388.5,333.6 390,332 391.9,332 Z" fill="#3a58c4"/>
<ellipse cx="392" cy="335.5" rx="1.6" ry="1.6" fill="#4a80d4"/>
<path d="M404.5,327 C407.5,327.5 411,328.5 412.8,331 C413.8,335 413.7,342 412.6,347 C411.5,350.5 408.5,351.5 406,351 C403.5,350 401.8,347 401,343 C400.2,339 400.3,333 401.5,329.5 C402.3,328 403.3,327.2 404.5,327 Z" fill="#4a80d4"/>
<path d="M406,329 C408.5,329.5 411,330.5 412,333 C412.5,337 412.2,343 411,347.5 C410,349.5 408,349.5 406.8,348.5 C405.3,346.5 404.5,343 403.8,339.5 C403.3,336 403.5,331.5 406,329 Z" fill="#3aa8dc"/>
<path d="M409.5,332.6 L409.6,332.7 Z" fill="#84c060" stroke="#84c060" stroke-width="7.6" stroke-linejoin="round" stroke-linecap="round"/>
<path d="M409.5,332.6 L409.6,332.7 Z" fill="#f0e020" stroke="#f0e020" stroke-width="6.2" stroke-linejoin="round" stroke-linecap="round"/>
<path d="M409.5,332.6 L409.6,332.7 Z" fill="#c82820" stroke="#c82820" stroke-width="4.4" stroke-linejoin="round" stroke-linecap="round"/>
<path d="M405.2,336.5 L405.3,336.6 Z" fill="#84c060" stroke="#84c060" stroke-width="5.6" stroke-linejoin="round" stroke-linecap="round"/>
<path d="M405.2,336.5 L405.3,336.6 Z" fill="#f0e020" stroke="#f0e020" stroke-width="4.4" stroke-linejoin="round" stroke-linecap="round"/>
<path d="M405.2,336.5 L405.3,336.6 Z" fill="#c82820" stroke="#c82820" stroke-width="2.4" stroke-linejoin="round" stroke-linecap="round"/>
<ellipse cx="408.8" cy="339.2" rx="1.8" ry="2.0" fill="#f0e020"/>
<ellipse cx="409.2" cy="342.6" rx="1.7" ry="1.9" fill="#f0e020"/>
<ellipse cx="408.3" cy="346.5" rx="1.5" ry="1.5" fill="#d8d020"/>
</g>
</g>
<text x="9.8" y="310.9" font-size="14.5" text-anchor="start" font-weight="bold" fill="#000" >E</text>
<line x1="53.3" y1="319.1" x2="53.3" y2="424.0" stroke="#111" stroke-width="1.3" />
<line x1="49.4" y1="420.5" x2="53.4" y2="420.5" stroke="#111" stroke-width="1" />
<text x="45.6" y="423.70000000000005" font-size="10" text-anchor="end" font-weight="normal" fill="#111" stroke="#111" stroke-width="0.18" >0</text>
<line x1="49.4" y1="400.5" x2="53.4" y2="400.5" stroke="#111" stroke-width="1" />
<text x="45.6" y="404.08000000000004" font-size="10" text-anchor="end" font-weight="normal" fill="#111" stroke="#111" stroke-width="0.18" >20</text>
<line x1="49.4" y1="380.5" x2="53.4" y2="380.5" stroke="#111" stroke-width="1" />
<text x="45.6" y="384.46000000000004" font-size="10" text-anchor="end" font-weight="normal" fill="#111" stroke="#111" stroke-width="0.18" >40</text>
<line x1="49.4" y1="361.5" x2="53.4" y2="361.5" stroke="#111" stroke-width="1" />
<text x="45.6" y="364.84000000000003" font-size="10" text-anchor="end" font-weight="normal" fill="#111" stroke="#111" stroke-width="0.18" >60</text>
<line x1="49.4" y1="341.5" x2="53.4" y2="341.5" stroke="#111" stroke-width="1" />
<text x="45.6" y="345.22" font-size="10" text-anchor="end" font-weight="normal" fill="#111" stroke="#111" stroke-width="0.18" >80</text>
<line x1="49.4" y1="322.5" x2="53.4" y2="322.5" stroke="#111" stroke-width="1" />
<text x="45.6" y="325.6" font-size="10" text-anchor="end" font-weight="normal" fill="#111" stroke="#111" stroke-width="0.18" >100</text>
<line x1="53.3" y1="420.25" x2="64.7" y2="420.25" stroke="#111" stroke-width="1.5" />
<line x1="64.5" y1="416.4" x2="64.5" y2="424.0" stroke="#111" stroke-width="1" />
<line x1="81.7" y1="420.25" x2="204.0" y2="420.25" stroke="#111" stroke-width="1.5" />
<line x1="81.5" y1="416.4" x2="81.5" y2="424.0" stroke="#111" stroke-width="1" />
<line x1="111.5" y1="420.2" x2="111.5" y2="424.0" stroke="#111" stroke-width="1" />
<line x1="141.5" y1="420.2" x2="141.5" y2="424.0" stroke="#111" stroke-width="1" />
<line x1="171.5" y1="420.2" x2="171.5" y2="424.0" stroke="#111" stroke-width="1" />
<line x1="201.5" y1="420.2" x2="201.5" y2="424.0" stroke="#111" stroke-width="1" />
<text x="53.5" y="436.9" font-size="10" text-anchor="middle" font-weight="normal" fill="#111" stroke="#111" stroke-width="0.18" >0</text>
<text x="64.3" y="436.9" font-size="10" text-anchor="middle" font-weight="normal" fill="#111" stroke="#111" stroke-width="0.18" >5</text>
<text x="81.9" y="436.9" font-size="10" text-anchor="middle" font-weight="normal" fill="#111" stroke="#111" stroke-width="0.18" >25</text>
<text x="111.6" y="436.9" font-size="10" text-anchor="middle" font-weight="normal" fill="#111" stroke="#111" stroke-width="0.18" >30</text>
<text x="141.5" y="436.9" font-size="10" text-anchor="middle" font-weight="normal" fill="#111" stroke="#111" stroke-width="0.18" >35</text>
<text x="171.4" y="436.9" font-size="10" text-anchor="middle" font-weight="normal" fill="#111" stroke="#111" stroke-width="0.18" >40</text>
<text x="201.5" y="436.9" font-size="10" text-anchor="middle" font-weight="normal" fill="#111" stroke="#111" stroke-width="0.18" >45</text>
<text transform="translate(129.4,452.5) scale(0.8,1)" font-size="10.5" text-anchor="middle" fill="#111" stroke="#111" stroke-width="0.3">Days</text>
<text transform="translate(20.2,368.7) rotate(-90) scale(0.8,1)" font-size="10.5" text-anchor="middle" fill="#111" stroke="#111" stroke-width="0.3">Overall survival</text>
<path d="M105.60,322.00 L105.60,339.85 L111.60,339.85 L111.60,357.71 L123.60,357.71 L123.60,366.64 L129.60,366.64 L129.60,393.32 L135.60,393.32 L135.60,402.25 L141.60,402.25 L141.60,420.10" fill="none" stroke="#4f9fe0" stroke-width="1.2" stroke-dasharray="3.2,2"/>
<path d="M81.60,322.00 L123.60,322.00 L123.60,339.85 L135.60,339.85 L135.60,366.64 L141.60,366.64 L141.60,384.39 L153.60,384.39 L153.60,393.32 L165.60,393.32 L165.60,411.17 L183.60,411.17 L183.60,420.10" fill="none" stroke="#A8163E" stroke-width="1.5"/>
<line x1="53.4" y1="322.0" x2="64.0" y2="322.0" stroke="#A8163E" stroke-width="1.5" />
<rect x="104.90" y="338.95" width="1.6" height="1.6" fill="#111"/>
<rect x="110.90" y="356.81" width="1.6" height="1.6" fill="#111"/>
<rect x="122.90" y="365.74" width="1.6" height="1.6" fill="#111"/>
<rect x="128.90" y="392.42" width="1.6" height="1.6" fill="#111"/>
<rect x="134.90" y="401.35" width="1.6" height="1.6" fill="#111"/>
<text x="143.4" y="359.2" font-size="9" text-anchor="middle" font-weight="normal" fill="#111" stroke="#111" stroke-width="0.5" >*</text>
<line x1="151" y1="330.1" x2="162.5" y2="330.1" stroke="#4f9fe0" stroke-width="1.4" stroke-dasharray="2.4,2.2"/>
<path d="M155.1,330.6 L156.3,328.2 L157.5,330.6 Z" fill="#111"/>
<line x1="151" y1="344.3" x2="161.5" y2="344.3" stroke="#A8163E" stroke-width="1.5"/>
<path d="M155.4,344.2 L156.4,342.3 L157.4,344.2 Z" fill="#111"/>
<text x="165.8" y="332.4" font-size="9.2" text-anchor="start" font-weight="normal" fill="#111" stroke="#111" stroke-width="0.18" >Vehicle</text>
<text x="165.8" y="346.8" font-size="9.5" text-anchor="start" font-weight="normal" fill="#111" stroke="#111" stroke-width="0.18" letter-spacing="0.2">20 mg/kg BIX01294</text>
<rect x="0.75" y="0.75" width="518.5" height="464.5" fill="none" stroke="#000" stroke-width="1.5"/>
</svg></body></html>
